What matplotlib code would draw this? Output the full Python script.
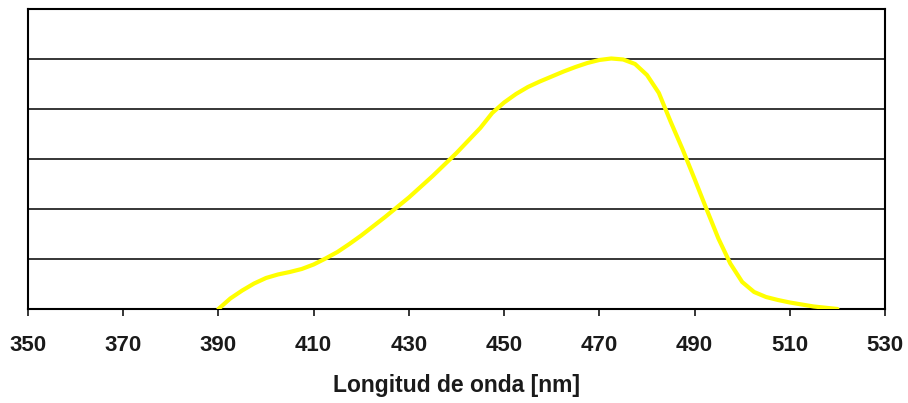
import matplotlib
matplotlib.use('Agg')
import matplotlib.pyplot as plt
import numpy as np

# spectral curve (wavelength in nm, relative units)
wavelength = [390, 392.5, 395, 397.5, 400, 402.5, 405, 407.5, 410, 412.5, 415,
              417.5, 420, 425, 430, 435, 440, 445, 447.5, 450, 452.5, 455,
              457.5, 460, 462.5, 465, 467.5, 470, 472.5, 475, 477.5, 480,
              482.5, 485, 487.5, 490, 492.5, 495, 497.5, 500, 502.5, 505,
              507.5, 510, 515, 520]
intensity = [0.0, 0.21, 0.37, 0.51, 0.62, 0.69, 0.74, 0.80, 0.89, 1.01, 1.14,
             1.30, 1.47, 1.84, 2.23, 2.66, 3.12, 3.62, 3.92, 4.13, 4.30, 4.44,
             4.55, 4.65, 4.75, 4.84, 4.92, 4.98, 5.01, 4.99, 4.90, 4.68,
             4.32, 3.74, 3.19, 2.60, 2.00, 1.41, 0.91, 0.54, 0.34, 0.24,
             0.18, 0.13, 0.05, 0.0]
xticks = list(range(350, 531, 20))

plt.rcParams['font.family'] = ['Liberation Sans', 'DejaVu Sans']

fig = plt.figure(figsize=(9.08, 4.03), dpi=100)
ax = fig.add_axes([0.0308, 0.2333, 0.9439, 0.7444])

for yv in range(1, 6):
    ax.axhline(yv, color='black', lw=1.1, zorder=1)

ax.plot(wavelength, intensity, color='#FFFF00', lw=3.0,
        solid_capstyle='round', solid_joinstyle='round', zorder=3)

ax.set_xlim(350, 530)
ax.set_ylim(0, 6)
ax.set_xticks(xticks)
ax.set_xticklabels([str(t) for t in xticks], fontsize=16, fontweight='bold', color='#1a1a1a')
ax.set_yticks([])
ax.tick_params(axis='x', direction='out', length=5, width=1.1, pad=14)
for s in ax.spines.values():
    s.set_linewidth(1.5)
    s.set_color('black')

ax.set_xlabel('Longitud de onda [nm]', fontsize=16.5, fontweight='bold', color='#1a1a1a', labelpad=13)

fig.savefig('out.png', dpi=100)
